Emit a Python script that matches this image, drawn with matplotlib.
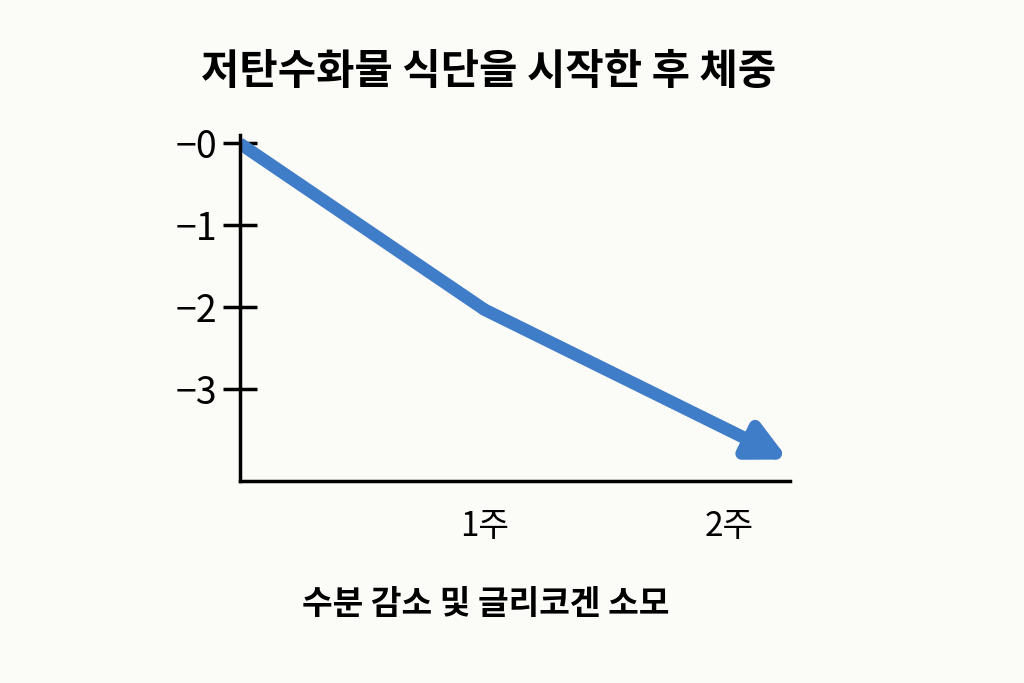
import matplotlib
matplotlib.use("Agg")
import matplotlib.pyplot as plt

plt.rcParams["font.family"] = ["Noto Sans CJK KR", "DejaVu Sans"]

WEEKS = [0, 1, 2.24]
WEIGHT = [0, -2.03, -3.86]
YTICKS = [0, -1, -2, -3]
YTICK_LABELS = ["−0", "−1", "−2", "−3"]
XTICKS = [1, 2]
XTICK_LABELS = ["1주", "2주"]
TITLE = "저탄수화물 식단을 시작한 후 체중"
XLABEL = "수분 감소 및 글리코겐 소모"

LINE_COLOR = "#3f7dc8"
BG = "#fbfbf8"

fig = plt.figure(figsize=(10.24, 6.83), dpi=100, facecolor=BG)
ax = fig.add_axes([0.234, 0.296, 0.537, 0.506], facecolor=BG)

ax.plot(WEEKS[:2], WEIGHT[:2], color=LINE_COLOR, lw=9, solid_capstyle="butt")
ax.annotate("", xy=(WEEKS[2], WEIGHT[2]), xytext=(WEEKS[1], WEIGHT[1]),
            arrowprops=dict(arrowstyle="-|>", color=LINE_COLOR, lw=9,
                            mutation_scale=55, shrinkA=0, shrinkB=0),
            annotation_clip=False)

ax.set_xlim(0, 2.245)
ax.set_ylim(-4.12, 0.1)
ax.set_yticks(YTICKS)
ax.set_yticklabels(YTICK_LABELS, fontsize=27)
ax.set_xticks(XTICKS)
ax.set_xticklabels(XTICK_LABELS, fontsize=24)
ax.tick_params(axis="y", direction="inout", length=24, width=2.5, pad=4)
ax.tick_params(axis="x", length=0, pad=20)
ax.spines[["top", "right"]].set_visible(False)
ax.spines["left"].set_linewidth(2.5)
ax.spines["bottom"].set_linewidth(2.5)

fig.text(0.477, 0.895, TITLE, ha="center", va="center", fontsize=30, fontweight="bold")
fig.text(0.474, 0.115, XLABEL, ha="center", va="center", fontsize=24, fontweight="bold")

fig.savefig("out.png", dpi=100, facecolor=BG)
